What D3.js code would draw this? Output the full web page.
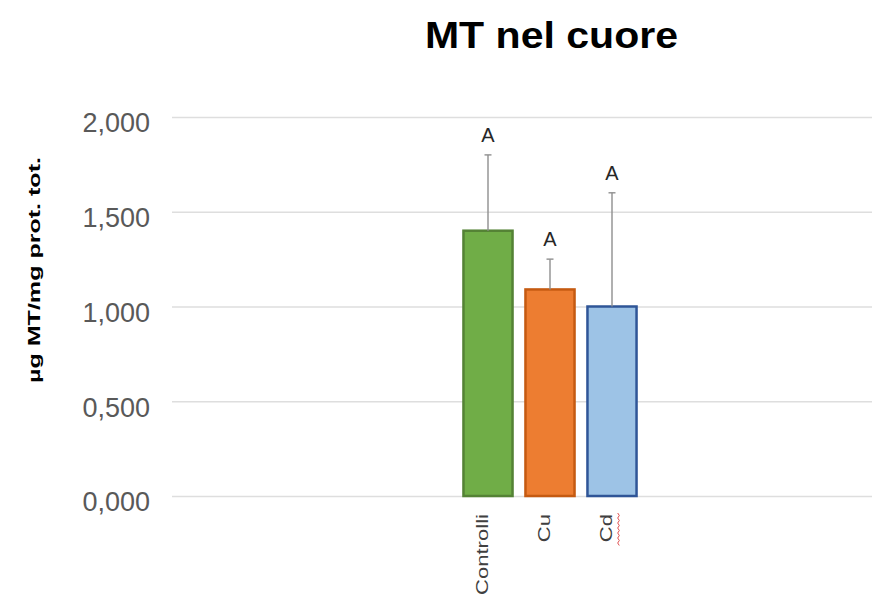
<!DOCTYPE html>
<html>
<head>
<meta charset="utf-8">
<script src="https://cdn.jsdelivr.net/npm/d3@7"></script>
<style>
  body { margin: 0; background: #fff; }
  svg { display: block; }
</style>
</head>
<body>
<svg id="chart" width="887" height="596"></svg>
<script>
const categories = ["Controlli", "Cu", "Cd"];
const means = [1.40, 1.09, 1.00];
const errUpper = [1.80, 1.25, 1.60];
const letters = ["A", "A", "A"];
const yTicks = [0, 0.5, 1.0, 1.5, 2.0];
const fills = ["#70AD47", "#ED7D31", "#9DC3E6"];
const strokes = ["#548235", "#C55A11", "#2F5597"];

const FONT = "Liberation Sans, Arial, Helvetica, sans-serif";
const svg = d3.select("#chart");
const plotLeft = 172, plotRight = 872;
const y = d3.scaleLinear().domain([0, 2]).range([496, 117]);
const x = d3.scaleBand().domain(categories).range([457, 643]).paddingInner(0.16).paddingOuter(0.08);

// title
const title = svg.append("text").attr("x", 551.5).attr("y", 48).attr("text-anchor", "middle")
  .attr("font-family", FONT).attr("font-weight", "bold")
  .attr("font-size", 36).attr("fill", "#000").text("MT nel cuore");
title.attr("textLength", title.node().getComputedTextLength() * 1.14).attr("lengthAdjust", "spacingAndGlyphs");

// gridlines + tick labels
const yAxis = d3.axisLeft(y).tickValues(yTicks)
  .tickSize(-(plotRight - plotLeft))
  .tickPadding(22)
  .tickFormat(d => d3.format(",.3f")(d).replace(".", ","));
const ga = svg.append("g").attr("transform", `translate(${plotLeft},0)`).call(yAxis);
ga.select(".domain").remove();
ga.selectAll(".tick line").attr("stroke", "#dedede").attr("stroke-width", 1.5);
ga.selectAll(".tick text").attr("font-family", FONT)
  .attr("font-size", 27).attr("fill", "#595959").attr("dy", "0.55em");

// y title
const yt = svg.append("text")
  .attr("transform", `translate(40,270) rotate(-90)`)
  .attr("text-anchor", "middle")
  .attr("font-family", FONT).attr("font-weight", "bold")
  .attr("font-size", 17).attr("fill", "#000").text("µg MT/mg prot. tot.");
yt.attr("textLength", 226).attr("lengthAdjust", "spacingAndGlyphs");

// bars
svg.selectAll("rect.bar").data(categories).join("rect")
  .attr("class", "bar")
  .attr("x", d => x(d) + 1.5)
  .attr("y", (d, i) => y(means[i]))
  .attr("width", x.bandwidth() - 3)
  .attr("height", (d, i) => y(0) - y(means[i]))
  .attr("fill", (d, i) => fills[i])
  .attr("stroke", (d, i) => strokes[i])
  .attr("stroke-width", 2.5);

// error bars
const cx = d => x(d) + x.bandwidth() / 2;
const eb = svg.selectAll("g.err").data(categories).join("g").attr("class", "err");
eb.append("line")
  .attr("x1", cx).attr("x2", cx)
  .attr("y1", (d, i) => y(means[i])).attr("y2", (d, i) => y(errUpper[i]))
  .attr("stroke", "#8f8f8f").attr("stroke-width", 1.4);
eb.append("line")
  .attr("x1", d => cx(d) - 3.5).attr("x2", d => cx(d) + 3.5)
  .attr("y1", (d, i) => y(errUpper[i])).attr("y2", (d, i) => y(errUpper[i]))
  .attr("stroke", "#8f8f8f").attr("stroke-width", 1.4);

// letters
svg.selectAll("text.letter").data(categories).join("text")
  .attr("class", "letter")
  .attr("x", cx)
  .attr("y", (d, i) => y(errUpper[i]) - 13)
  .attr("text-anchor", "middle")
  .attr("font-family", FONT)
  .attr("font-size", 20).attr("fill", "#262626").text((d, i) => letters[i]);

// x labels (rotated)
svg.selectAll("text.xl").data(categories).join("text")
  .attr("class", "xl")
  .attr("transform", d => `translate(${cx(d)},514) rotate(-90)`)
  .attr("text-anchor", "end")
  .attr("font-family", FONT)
  .attr("font-size", 17).attr("fill", "#404040").text(d => d)
  .each(function() {
    d3.select(this).attr("textLength", this.getComputedTextLength() * 1.3)
      .attr("lengthAdjust", "spacingAndGlyphs");
  });

// spellcheck squiggle beside "Cd"
const sx = cx("Cd") + 6;
const sq = d3.range(0, 14).map(i => [sx + (i % 2 ? 1.3 : -0.3), 513 + i * 2.5]);
svg.append("path").attr("d", d3.line()(sq)).attr("fill", "none")
  .attr("stroke", "#e05050").attr("stroke-width", 1);
</script>
</body>
</html>
